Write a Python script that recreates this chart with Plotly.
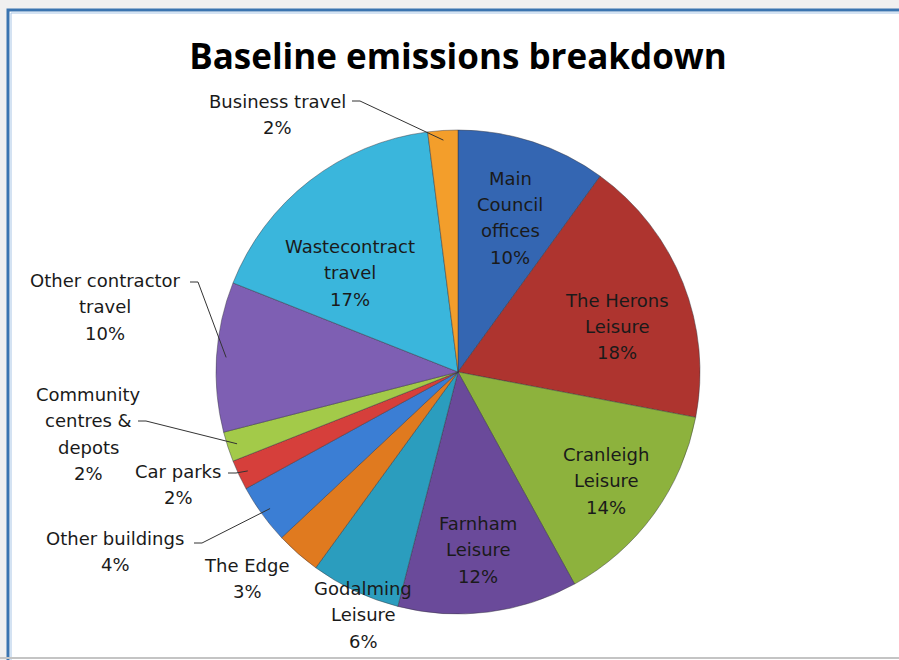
import math
import plotly.graph_objects as go

# ---- data ----
categories = ["Main Council offices", "The Herons Leisure", "Cranleigh Leisure",
              "Farnham Leisure", "Godalming Leisure", "The Edge", "Other buildings",
              "Car parks", "Community centres & depots", "Other contractor travel",
              "Waste contract travel", "Business travel"]
values = [10, 18, 14, 12, 6, 3, 4, 2, 2, 10, 17, 2]
label_lines = [["Main", "Council", "offices"], ["The Herons", "Leisure"],
               ["Cranleigh", "Leisure"], ["Farnham", "Leisure"], ["Godalming", "Leisure"],
               ["The Edge"], ["Other buildings"], ["Car parks"],
               ["Community", "centres &", "depots"], ["Other contractor", "travel"],
               ["Wastecontract", "travel"], ["Business travel"]]
colors = ["#3466B2", "#AE342F", "#8DB23D", "#6A4A9A", "#2B9DBE", "#E07A1F",
          "#3B7ED4", "#D63F3B", "#A3CA49", "#7E5FB3", "#3AB6DC", "#F39E2B"]

W, H = 899, 660
CX, CY, R = 458, 372, 242

# label placement (pixel centres of first line) and leader starts: layout only
label_pos = [(510, 178), (617, 300), (606, 454), (478, 523), (363, 588), (247, 565),
             (115, 538), (178, 471), (88, 394), (105, 280), (350, 246), (277, 101)]
leader_from = {6: (194, 543), 7: (228, 473), 8: (138, 421), 9: (190, 282), 11: (352, 101)}
LINE_H = 26.5
LABEL_FONT = dict(family="DejaVu Sans, sans-serif", size=18, color="#1a1a1a")

def px(x):
    return x / W

def py(y):
    return 1 - y / H

fig = go.Figure()
fig.add_trace(go.Pie(
    labels=categories, values=values, sort=False, direction="clockwise", rotation=0,
    marker=dict(colors=colors, line=dict(color="rgba(50,50,60,0.45)", width=1)),
    textinfo="none", hoverinfo="label+percent", showlegend=False,
    domain=dict(x=[px(CX - R), px(CX + R)], y=[py(CY + R), py(CY - R)]),
))

total = sum(values)
annotations = []
shapes = [
    dict(type="rect", xref="paper", yref="paper", x0=0, x1=1, y0=0, y1=1,
         fillcolor="#F0F0F0", line=dict(width=0), layer="below"),
    dict(type="rect", xref="paper", yref="paper", x0=px(8), x1=px(915), y0=py(675), y1=py(10),
         fillcolor="white", line=dict(color="#3A74B0", width=3), layer="below"),
    dict(type="rect", xref="paper", yref="paper", x0=px(11), x1=px(915), y0=py(675), y1=py(13),
         fillcolor="rgba(0,0,0,0)", line=dict(color="#A9C6E6", width=1), layer="below"),
    dict(type="line", xref="paper", yref="paper", x0=0, x1=1, y0=py(658), y1=py(658),
         line=dict(color="#C4C4C4", width=2), layer="below"),
]

cum = 0
for i, (cat, v) in enumerate(zip(categories, values)):
    pct = round(100 * v / total)
    lines = label_lines[i] + [f"{pct}%"]
    x0, y0 = label_pos[i]
    for k, t in enumerate(lines):
        annotations.append(dict(
            x=px(x0), y=py(y0 + k * LINE_H), xref="paper", yref="paper",
            text=t, showarrow=False, xanchor="center", yanchor="middle", font=LABEL_FONT,
        ))
    mid = 2 * math.pi * (cum + v / 2) / total
    if i in leader_from:
        ex = CX + 0.96 * R * math.sin(mid)
        ey = CY - 0.96 * R * math.cos(mid)
        sx, sy = leader_from[i]
        hx = sx + 8
        path = f"M {px(sx)},{py(sy)} L {px(hx)},{py(sy)} L {px(ex)},{py(ey)}"
        shapes.append(dict(type="path", xref="paper", yref="paper", path=path,
                           line=dict(color="#333333", width=1), layer="above"))
    cum += v

fig.update_layout(
    width=W, height=H, margin=dict(l=0, r=0, t=0, b=0),
    paper_bgcolor="white", plot_bgcolor="white",
    title=dict(text="<b>Baseline emissions breakdown</b>", x=px(458), y=py(57),
               xanchor="center", yanchor="middle", xref="paper", yref="paper",
               font=dict(family="Open Sans, sans-serif", size=35, color="black")),
    annotations=annotations, shapes=shapes,
)

fig.write_html("out.html", config={"displayModeBar": False},
               post_script="document.body.style.margin='0';document.body.style.overflow='hidden';")
